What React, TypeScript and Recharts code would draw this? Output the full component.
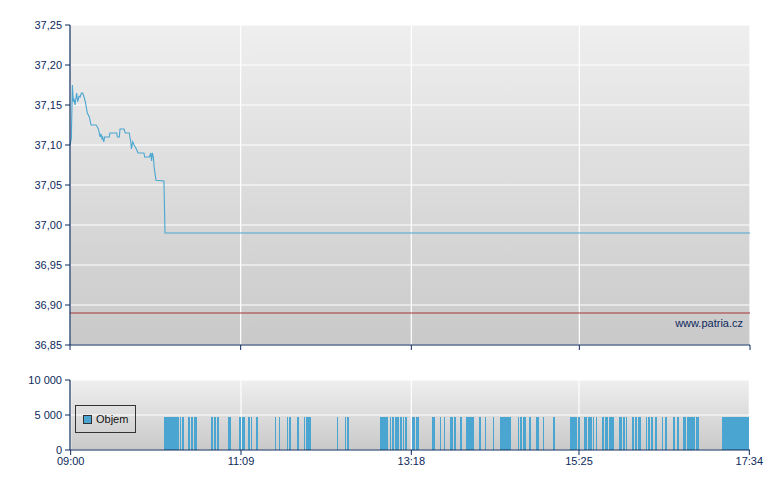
import { LineChart, Line, BarChart, Bar, XAxis, YAxis, CartesianGrid, ReferenceLine } from "recharts";

// minutes since 09:00
const timeTicks = [0, 129, 258, 385, 514];
const timeLabels = ["09:00", "11:09", "13:18", "15:25", "17:34"];

const priceTicks = [36.85, 36.9, 36.95, 37.0, 37.05, 37.1, 37.15, 37.2, 37.25];
const prevClose = 36.89;

const priceMinutes = [
  0, 1.0, 1.8, 2.5, 3, 3.8, 5, 5.8, 6.8, 7.6, 8.6, 9.6, 10.6, 11.6, 13.1, 14.6, 15.9, 19.7, 21.2, 21.9,
  22.7, 23.4, 24.2, 24.7, 25.5, 26.2, 29.7, 30.2, 35.3, 35.8, 37.3, 37.8, 40.8, 41.8, 44.8, 45.9, 46.4,
  47.4, 48.4, 49.9, 51.4, 55.9, 56.4, 60, 61, 61.7, 62.2, 63, 63.7, 65, 71, 71.8, 514,
];
const priceValues = [
  37.1, 37.108, 37.175, 37.154, 37.158, 37.15, 37.165, 37.154, 37.161, 37.16, 37.165, 37.165, 37.16,
  37.154, 37.14, 37.135, 37.125, 37.125, 37.121, 37.117, 37.11, 37.114, 37.108, 37.11, 37.104, 37.11,
  37.11, 37.115, 37.115, 37.11, 37.11, 37.12, 37.12, 37.115, 37.115, 37.104, 37.095, 37.104, 37.1,
  37.096, 37.09, 37.09, 37.085, 37.085, 37.09, 37.08, 37.09, 37.085, 37.071, 37.056, 37.055, 36.99, 36.99,
];

const volumeTicks = [0, 5000, 10000];
const volumeTickLabels = ["0", "5 000", "10 000"];

// [first minute, last minute, volume per minute]
const volumeRuns: [number, number, number][] = [
  [71, 81, 4700], [83, 83, 4700], [85, 85, 4700], [89, 90, 4700], [92, 92, 4700], [94, 95, 4700],
  [107, 107, 4700], [109, 109, 4700], [111, 112, 4700], [120, 121, 4700], [128, 128, 4700],
  [130, 131, 4700], [135, 135, 4700], [137, 137, 4700], [141, 141, 4700], [155, 155, 4700],
  [158, 158, 4700], [164, 164, 4700], [166, 166, 4700], [172, 172, 4700], [177, 177, 4700],
  [179, 181, 4700], [202, 202, 4700], [208, 208, 4700], [210, 210, 4700], [235, 240, 4700],
  [242, 242, 4700], [244, 244, 4700], [246, 248, 4700], [250, 250, 4700], [252, 252, 4700],
  [254, 254, 4700], [259, 260, 4700], [262, 263, 4700], [274, 275, 4700], [280, 280, 4700],
  [283, 283, 4700], [288, 289, 4700], [291, 291, 4700], [295, 296, 4700], [300, 305, 4700],
  [310, 310, 4700], [314, 314, 4700], [320, 320, 4700], [326, 333, 4700], [339, 339, 4700],
  [341, 341, 4700], [343, 344, 4700], [348, 348, 4700], [353, 354, 4700], [358, 358, 4700],
  [366, 366, 4700], [379, 383, 4700], [385, 385, 4700], [389, 390, 4700], [392, 394, 4700],
  [396, 396, 4700], [398, 398, 4700], [403, 403, 4700], [405, 406, 4700], [408, 411, 4700],
  [416, 417, 4700], [419, 419, 4700], [421, 421, 4700], [426, 426, 4700], [428, 428, 4700],
  [430, 431, 4700], [436, 436, 4700], [438, 438, 4700], [440, 440, 4700], [443, 443, 4700],
  [448, 448, 4700], [451, 451, 4700], [457, 457, 4700], [460, 460, 4700], [464, 465, 4700],
  [467, 472, 4700], [474, 475, 4700], [494, 513, 4700],
];

const NAVY = "#0d2a5c";
const BLUE = "#4aa6d0";

const priceData = priceMinutes.map((t, i) => ({ t, p: priceValues[i] }));

const volumeData = Array.from({ length: timeTicks[timeTicks.length - 1] + 1 }, (_, m) => {
  const run = volumeRuns.find(([a, b]) => m >= a && m <= b);
  return { m, v: run ? run[2] : 0 };
});

const timeLabel = (v: number) => timeLabels[timeTicks.indexOf(v)] ?? "";

// solid blocks: widen each minute bar slightly so neighbours merge without seams
const VolumeBar = (props: any) => {
  const { x, y, width, height } = props;
  if (!height || height <= 0) return null;
  return <rect x={x} y={y} width={width + 0.6} height={height} fill={BLUE} shapeRendering="crispEdges" />;
};

const App = () => {
  return (
    <div
      style={{
        position: "absolute",
        left: 0,
        top: 0,
        width: 780,
        height: 490,
        background: "#fff",
        fontFamily: '"Liberation Sans", Arial, sans-serif',
      }}
    >
      <div style={{ position: "absolute", left: 0, top: 0 }}>
        <LineChart width={780} height={360} data={priceData} margin={{ top: 25, right: 30, bottom: 0, left: 0 }}>
          <defs>
            <linearGradient id="bgTop" x1="0" y1="0" x2="0" y2="1">
              <stop offset="0%" stopColor="#efefef" />
              <stop offset="100%" stopColor="#c9c9c9" />
            </linearGradient>
          </defs>
          <CartesianGrid fill="url(#bgTop)" stroke="#ffffff" strokeWidth={1.2} />
          <XAxis
            dataKey="t"
            type="number"
            domain={[0, 514]}
            ticks={timeTicks}
            tickFormatter={() => ""}
            height={15}
            tickSize={5}
            stroke={NAVY}
            axisLine={{ stroke: NAVY, strokeWidth: 1.2 }}
            tickLine={{ stroke: NAVY }}
          />
          <YAxis
            type="number"
            domain={[36.85, 37.25]}
            ticks={priceTicks}
            width={70}
            tickSize={5}
            tickMargin={3}
            tickFormatter={(v: number) => v.toFixed(2).replace(".", ",")}
            tick={{ fill: NAVY, fontSize: 11 }}
            axisLine={{ stroke: NAVY, strokeWidth: 1.2 }}
            tickLine={{ stroke: NAVY }}
          />
          <ReferenceLine y={prevClose} stroke="#a83434" strokeWidth={1} />
          <Line
            type="linear"
            dataKey="p"
            stroke={BLUE}
            strokeWidth={1.1}
            dot={false}
            isAnimationActive={false}
          />
        </LineChart>
      </div>
      <div
        style={{
          position: "absolute",
          right: 37,
          top: 318,
          fontSize: 11,
          lineHeight: "11px",
          color: NAVY,
          textAlign: "right",
        }}
      >
        www.patria.cz
      </div>

      <div style={{ position: "absolute", left: 0, top: 360 }}>
        <BarChart
          width={780}
          height={130}
          data={volumeData}
          margin={{ top: 20, right: 30, bottom: 10, left: 0 }}
          barCategoryGap={0}
          barGap={0}
        >
          <defs>
            <linearGradient id="bgBottom" x1="0" y1="0" x2="0" y2="1">
              <stop offset="0%" stopColor="#efefef" />
              <stop offset="100%" stopColor="#c9c9c9" />
            </linearGradient>
          </defs>
          <CartesianGrid fill="url(#bgBottom)" stroke="#ffffff" strokeWidth={1.2} />
          <XAxis
            dataKey="m"
            ticks={timeTicks}
            interval={0}
            tickFormatter={timeLabel}
            height={30}
            tickSize={5}
            tickMargin={2}
            tick={{ fill: NAVY, fontSize: 11 }}
            axisLine={{ stroke: NAVY, strokeWidth: 1.2 }}
            tickLine={{ stroke: NAVY }}
          />
          <YAxis
            type="number"
            domain={[0, 10000]}
            ticks={volumeTicks}
            width={70}
            tickSize={5}
            tickMargin={3}
            tickFormatter={(v: number) => volumeTickLabels[volumeTicks.indexOf(v)] ?? ""}
            tick={{ fill: NAVY, fontSize: 11 }}
            axisLine={{ stroke: NAVY, strokeWidth: 1.2 }}
            tickLine={{ stroke: NAVY }}
          />
          <Bar dataKey="v" name="Objem" fill={BLUE} shape={VolumeBar} isAnimationActive={false} />
        </BarChart>
      </div>
      <div
        style={{
          position: "absolute",
          left: 75,
          top: 405,
          width: 59,
          height: 26,
          border: "1px solid #333",
          display: "flex",
          alignItems: "center",
          fontSize: 11,
          color: "#111",
        }}
      >
        <span
          style={{
            display: "inline-block",
            width: 7,
            height: 7,
            marginLeft: 7,
            marginRight: 4,
            background: BLUE,
            border: "1px solid #333",
          }}
        />
        Objem
      </div>
    </div>
  );
};

export default App;
